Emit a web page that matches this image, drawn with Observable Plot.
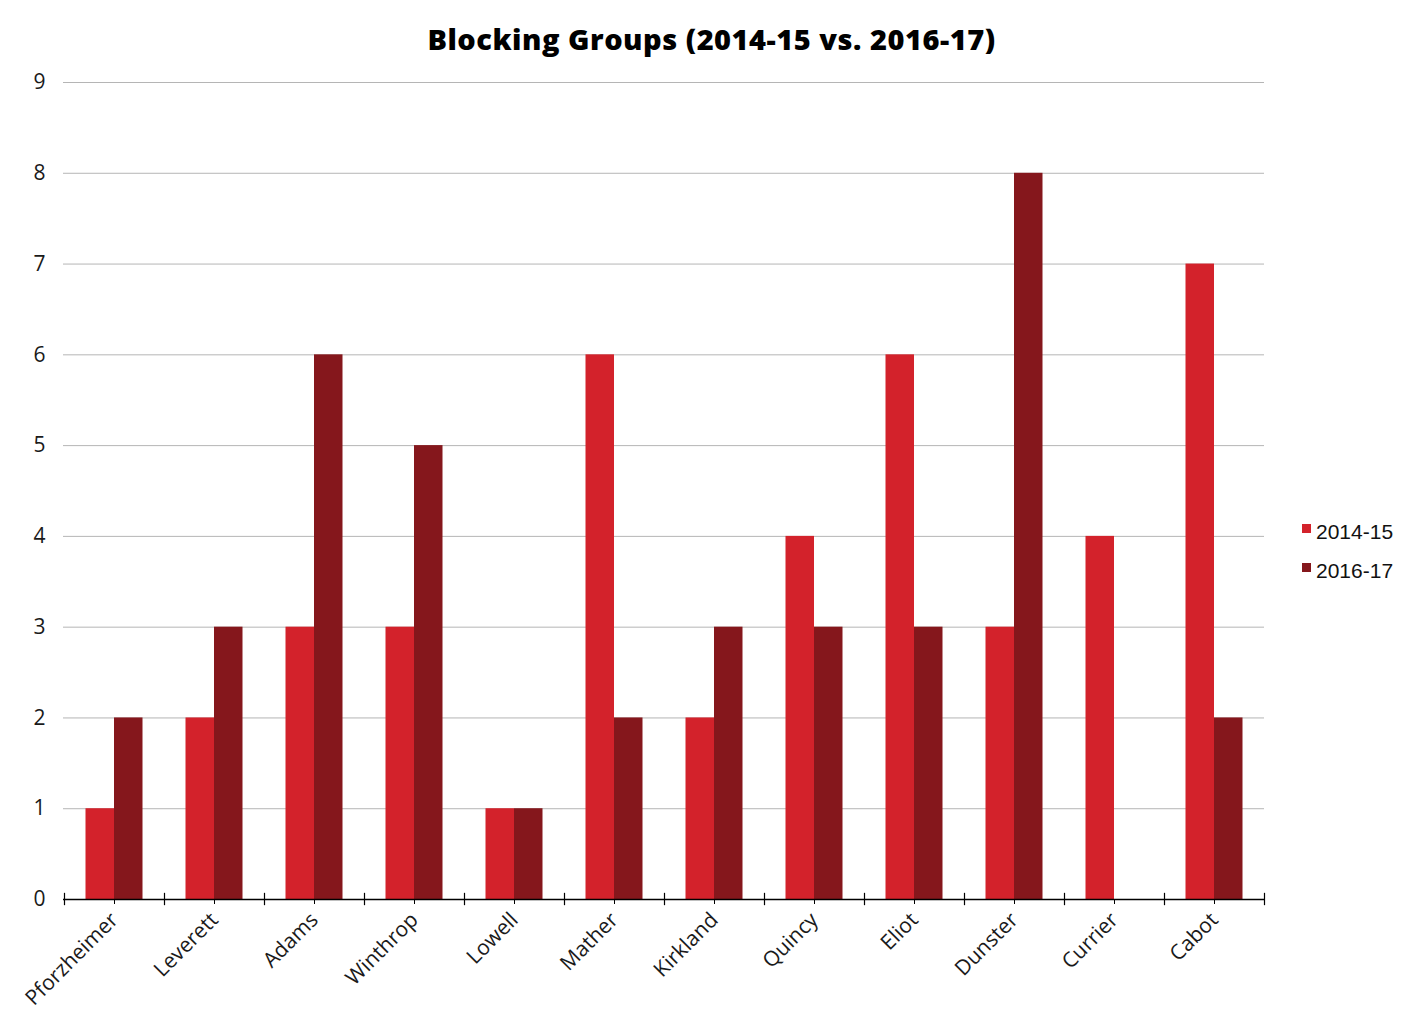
<!DOCTYPE html>
<html>
<head>
<meta charset="utf-8">
<script src="https://cdn.jsdelivr.net/npm/d3@7"></script>
<script src="https://cdn.jsdelivr.net/npm/@observablehq/plot@0.6"></script>
<style>
  html, body { margin: 0; padding: 0; background: #fff; }
  #wrap { position: relative; width: 1423px; height: 1031px; }
  #title { height: 60px; line-height: 78px; text-align: center; font-family: "Open Sans", sans-serif; font-weight: 800; font-size: 29px; color: #000; letter-spacing: 0.5px; }
  #legend { position: absolute; left: 1302px; top: 512px; font-family: "Liberation Sans", Arial, sans-serif; font-size: 21px; color: #111; }
  #legend .item { display: flex; align-items: center; height: 39px; }
  #legend .sw { width: 9px; height: 9px; margin-right: 5px; margin-top: -6px; }
</style>
</head>
<body>
<div id="wrap">
  <div id="title">Blocking Groups (2014-15 vs. 2016-17)</div>
  <div id="chart"></div>
  <div id="legend"></div>
</div>
<script>
const houses = ["Pforzheimer", "Leverett", "Adams", "Winthrop", "Lowell", "Mather", "Kirkland", "Quincy", "Eliot", "Dunster", "Currier", "Cabot"];
const series = ["2014-15", "2016-17"];
const values2014 = [1, 2, 3, 3, 1, 6, 2, 4, 6, 3, 4, 7];
const values2016 = [2, 3, 6, 5, 1, 2, 3, 3, 3, 8, 0, 2];
const colors = ["#d3222b", "#85171c"];
const yTicks = [0, 1, 2, 3, 4, 5, 6, 7, 8, 9];

const rows = houses.flatMap((h, i) => [
  {house: h, series: series[0], value: values2014[i]},
  {house: h, series: series[1], value: values2016[i]}
]);

const chart = Plot.plot({
  width: 1423,
  height: 971,
  marginTop: 22,
  marginBottom: 132,
  marginLeft: 63,
  marginRight: 159,
  style: {fontFamily: "'Open Sans', sans-serif", fontSize: "21px", color: "#1a1a1a", background: "#fff"},
  x: {domain: houses, padding: 0, label: null},
  y: {domain: [0, 9], label: null},
  color: {domain: series, range: colors},
  marks: [
    Plot.gridY(yTicks, {stroke: "#b5b5b5", strokeOpacity: 1, strokeWidth: 1}),
    Plot.axisY(yTicks, {tickSize: 0, tickPadding: 18, fontSize: 21, label: null, tickFormat: d => String(d)}),
    Plot.barY(rows.filter(d => d.series === series[0]), {x: "house", y: "value", fill: "series", insetLeft: 21.5, insetRight: 50}),
    Plot.barY(rows.filter(d => d.series === series[1]), {x: "house", y: "value", fill: "series", insetLeft: 50, insetRight: 21.5}),
    Plot.ruleY([0], {stroke: "#000", strokeWidth: 1.5}),
    Plot.ruleX(houses, {x: d => d, y1: -0.068, y2: 0.068, dx: -50, stroke: "#000", strokeWidth: 1.2}),
    Plot.ruleX([houses[houses.length - 1]], {x: d => d, y1: -0.068, y2: 0.068, dx: 50, stroke: "#000", strokeWidth: 1.2}),
    Plot.axisX({tickSize: 5, tickPadding: 12, tickRotate: -45, fontSize: 21, label: null, stroke: "#000"})
  ]
});
document.getElementById("chart").appendChild(chart);

const legend = document.getElementById("legend");
series.forEach((s, i) => {
  const item = document.createElement("div");
  item.className = "item";
  item.innerHTML = `<span class="sw" style="background:${colors[i]}"></span><span>${s}</span>`;
  legend.appendChild(item);
});
</script>
</body>
</html>
